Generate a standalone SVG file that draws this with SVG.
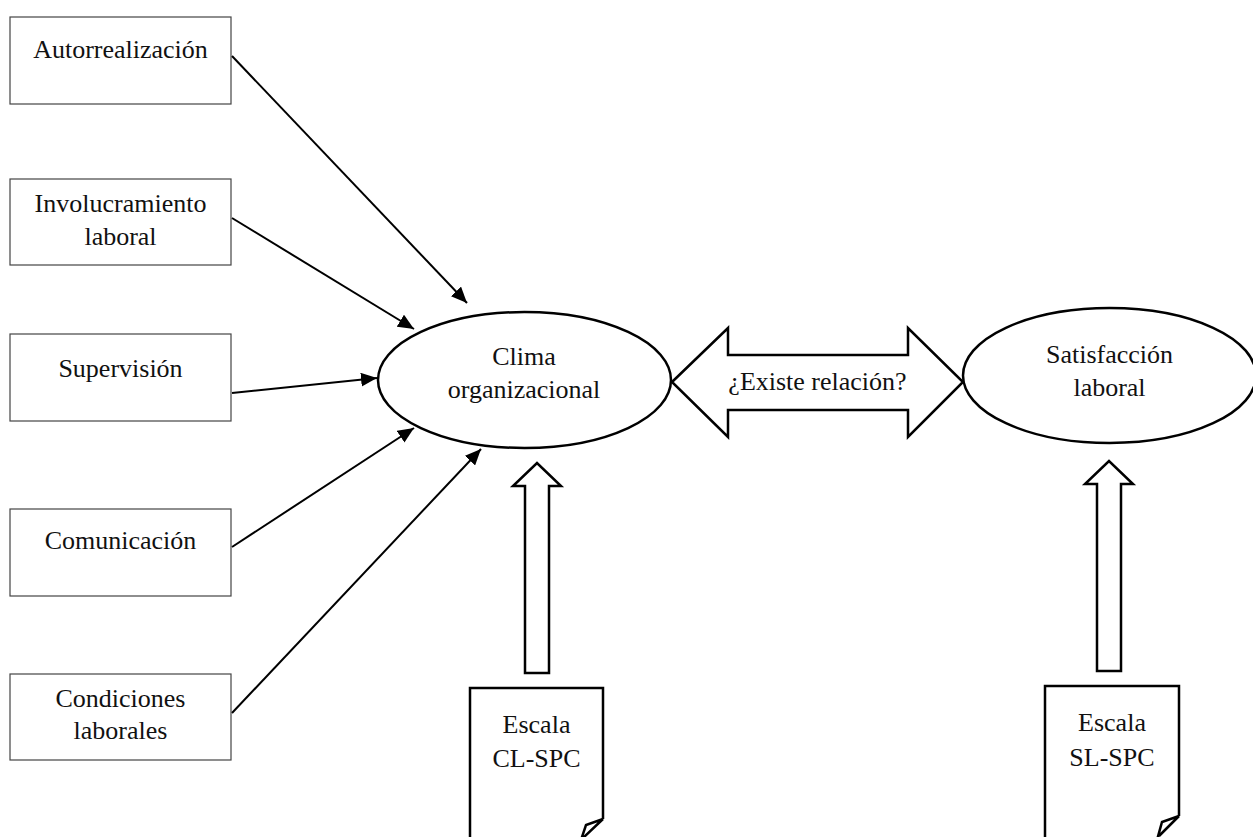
<svg xmlns="http://www.w3.org/2000/svg" width="1253" height="837" viewBox="0 0 1253 837">
<style>
  text { font-family: "Liberation Serif", "Times New Roman", serif; font-size: 26px; fill: #111; text-anchor: middle; }
  .box { fill: #fff; stroke: #444; stroke-width: 1.2; }
  .ell { fill: #fff; stroke: #000; stroke-width: 2.5; }
  .big { fill: #fff; stroke: #000; stroke-width: 2.5; stroke-linejoin: miter; }
  .conn { fill: none; stroke: #000; stroke-width: 2; }
</style>
<defs>
  <marker id="ah" markerUnits="userSpaceOnUse" markerWidth="17" markerHeight="14" refX="16" refY="7" orient="auto">
    <path d="M0,0 L16,7 L0,14 z" fill="#000"/>
  </marker>
</defs>
<rect width="1253" height="837" fill="#fff"/>

<g id="n-autorrealizacion">
  <rect class="box" x="10" y="17" width="221" height="87"/>
  <text x="120.5" y="58">Autorrealización</text>
</g>
<g id="n-involucramiento">
  <rect class="box" x="10" y="179" width="221" height="86"/>
  <text x="120.5" y="212">Involucramiento</text>
  <text x="120.5" y="245">laboral</text>
</g>
<g id="n-supervision">
  <rect class="box" x="10" y="334" width="221" height="87"/>
  <text x="120.5" y="377">Supervisión</text>
</g>
<g id="n-comunicacion">
  <rect class="box" x="10" y="509" width="221" height="87"/>
  <text x="120.5" y="549">Comunicación</text>
</g>
<g id="n-condiciones">
  <rect class="box" x="10" y="674" width="221" height="86"/>
  <text x="120.5" y="707">Condiciones</text>
  <text x="120.5" y="739">laborales</text>
</g>

<g id="n-clima">
  <ellipse class="ell" cx="524.5" cy="380" rx="146.5" ry="68"/>
  <text x="524" y="365">Clima</text>
  <text x="524" y="398">organizacional</text>
</g>
<g id="n-satisfaccion">
  <ellipse class="ell" cx="1109.5" cy="375.5" rx="146.5" ry="67.5"/>
  <text x="1109.5" y="363">Satisfacción</text>
  <text x="1109.5" y="396">laboral</text>
</g>

<g id="n-relacion">
  <path class="big" d="M672,382 L728,328 L728,355 L908,355 L908,328 L963,382 L908,437 L908,410 L728,410 L728,437 Z"/>
  <text x="817.5" y="390">¿Existe relación?</text>
</g>

<g id="n-escala-cl">
  <path class="big" d="M525,673 L525,486 L513,486 L537,463 L561,486 L549,486 L549,673 Z"/>
  <path class="big" d="M470,840 L470,688 L603,688 L603,819"/>
  <path class="big" d="M603,819 L586,825 L581,840 M603,819 L583,838"/>
  <text x="536.5" y="733">Escala</text>
  <text x="536.5" y="767">CL-SPC</text>
</g>
<g id="n-escala-sl">
  <path class="big" d="M1097,671 L1097,484 L1085,484 L1109,461 L1133,484 L1121,484 L1121,671 Z"/>
  <path class="big" d="M1045,840 L1045,686 L1179,686 L1179,816"/>
  <path class="big" d="M1179,816 L1162,822 L1157,840 M1179,816 L1159,836"/>
  <text x="1112" y="731">Escala</text>
  <text x="1112" y="766">SL-SPC</text>
</g>

<g id="connectors">
  <line class="conn" x1="232" y1="56" x2="467" y2="303" marker-end="url(#ah)"/>
  <line class="conn" x1="232" y1="218" x2="414" y2="329" marker-end="url(#ah)"/>
  <line class="conn" x1="232" y1="393" x2="377" y2="378" marker-end="url(#ah)"/>
  <line class="conn" x1="232" y1="547" x2="414" y2="428" marker-end="url(#ah)"/>
  <line class="conn" x1="232" y1="713" x2="481" y2="449" marker-end="url(#ah)"/>
</g>
</svg>
